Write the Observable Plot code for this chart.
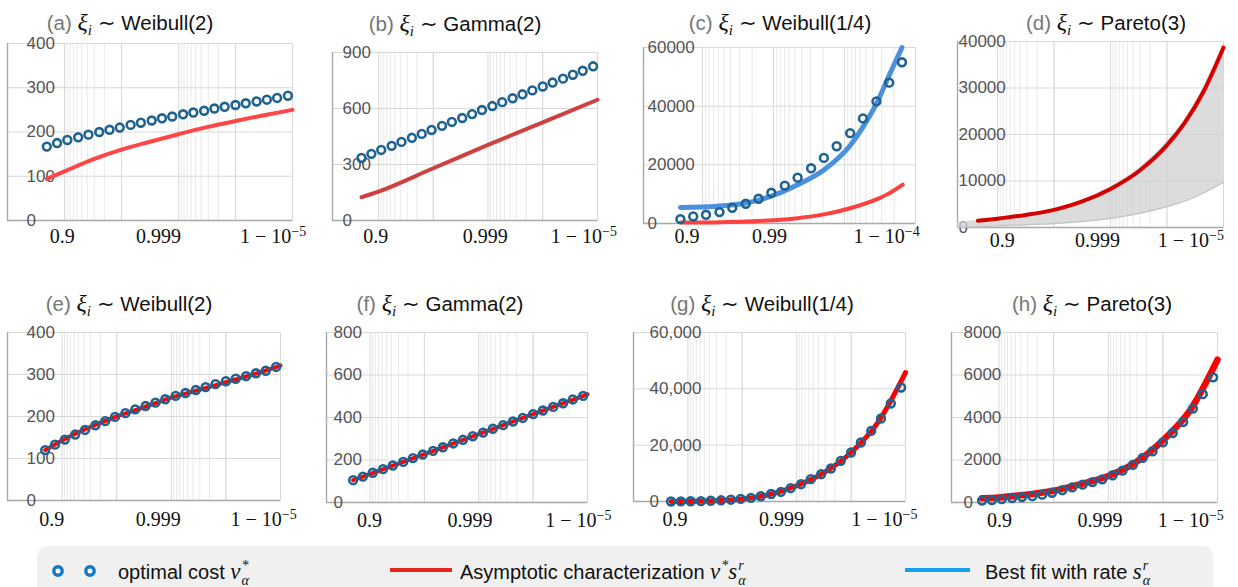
<!DOCTYPE html>
<html>
<head>
<meta charset="utf-8">
<script src="https://cdn.jsdelivr.net/npm/d3@7"></script>
<script src="https://cdn.jsdelivr.net/npm/@observablehq/plot@0.6"></script>
<style>
html,body{margin:0;padding:0;background:#fff;}
#fig{position:relative;width:1238px;height:587px;overflow:hidden;font-family:"Liberation Sans",Arial,sans-serif;color:#111;}
.panel{position:absolute;}
.panel svg{background:transparent !important;max-width:none !important;display:block;}
.title{position:absolute;white-space:nowrap;font-size:20.5px;line-height:1;transform:translateX(-50%);}
.title .lab{color:#777;}
.m{font-family:"Liberation Serif","DejaVu Serif",serif;font-style:italic;}
.title .m{font-size:24px;}
.sb{font-size:0.62em;position:relative;top:0.35em;font-family:"Liberation Serif",serif;font-style:italic;}
.xl{position:absolute;font-family:"Liberation Serif","DejaVu Serif",serif;font-size:20px;line-height:1;white-space:nowrap;transform:translateX(-50%);color:#111;}
.xl sup{font-size:14px;line-height:0;position:relative;top:-0.55em;vertical-align:baseline;}
.leg{position:absolute;font-size:20px;line-height:1;white-space:nowrap;color:#111;}
.lm{font-family:"Liberation Serif",serif;font-style:italic;font-size:23px;line-height:1;}
.ss{display:inline-block;position:relative;width:11px;height:20px;vertical-align:baseline;font-family:"Liberation Serif",serif;font-style:italic;}
.ss .u,.ss .d{position:absolute;left:1px;font-size:14px;line-height:1;}
.ss .u{top:0px;}
.ss .d{top:14.5px;}
</style>
</head>
<body>
<div id="fig"></div>
<script>
// ---- x positions of the evaluated levels: -log10(1 - alpha) ----
const levelT = [0.69,0.87,1.05,1.24,1.42,1.61,1.79,1.97,2.16,2.34,2.53,2.71,2.89,3.08,3.26,3.45,3.63,3.81,4.00,4.18,4.37,4.55,4.73,4.92];
const curveT = [0.69,1,1.5,2,2.5,3,3.5,4,4.5,5];
const minorMult = [1,2,3,4,5,6,7,8,9];

// (a) Weibull(2)
const costA = [167,175,182,188,194,200,205,210,216,221,226,231,235,240,244,248,253,257,261,265,269,273,277,282];
const asymA = [94,111,138,160,178,195,211,225,238,250];
// (b) Gamma(2)
const costB = [335,357,378,400,421,443,464,485,507,528,549,570,592,613,634,655,676,697,718,739,760,781,802,826];
const asymBT = [0.69,1,2,3,4,5];
const asymB = [125,155,280,405,526,647];
// (c) Weibull(1/4)
const costC = [1480,2400,2970,3880,5360,6730,8440,10490,12890,15630,18820,22360,26350,30800,35820,41630,48020,54980];
const fitCT = [0.69,1.2,1.61,1.97,2.34,2.71,3.08,3.26,3.45,3.63,3.81];
const fitC = [5480,5900,6960,9350,13230,18250,26580,32850,40840,50530,60000];
const asymCT = [0.69,1.07,1.5,2,2.34,2.71,3.08,3.45,3.63,3.82];
const asymC = [300,340,600,1140,1825,3100,5200,8200,10270,13230];
// (d) Pareto(3)
const bandDT = [0.29,0.65,1,1.5,2,2.5,3,3.5,4,4.4,5];
const bandDHi = [1100,1550,2050,2900,4050,5950,8800,12800,18600,24800,39500];
const bandDLo = [0,150,350,600,850,1300,2000,3000,4500,6100,9700];
const asymDT = [0.65,1,1.5,2,2.5,3,3.5,4,4.3,4.65,5];
const asymD = [1430,1900,2700,3800,5600,8300,12100,17700,22300,29300,38700];
// (e) Weibull(2)
const costE = [120,133,145,157,168,179,189,199,208,217,225,233,241,249,256,263,270,277,284,290,296,303,309,318];
const asymE = [120,143,174,200,222,245,263,282,300,321];
// (f) Gamma(2)
const costF = [105,122,140,157,174,191,209,226,243,260,278,295,312,329,347,364,381,398,416,433,450,467,485,502];
const asymFT = [0.69,2,3,4,5];
const asymF = [105,228,322,416,509];
// (g) Weibull(1/4)
const costG = [15,35,75,150,260,420,640,930,1300,1850,2650,3430,4730,6150,7930,9700,11720,14440,17400,20950,25090,29470,34800,40470];
const asymG = [10,40,250,880,2450,5600,10250,17400,28300,45800];
// (h) Pareto(3)
const costH = [90,120,160,210,260,300,370,460,580,710,840,960,1090,1280,1500,1770,2100,2410,2830,3270,3790,4420,5100,5890];
const asymH = [200,240,370,550,870,1250,1880,2920,4350,6720];

// tick labels
const ticks5 = ["0.9","0.999","1 − 10<sup>−5</sup>"];
const ticks4 = ["0.9","0.99","1 − 10<sup>−4</sup>"];

const zip = (xs, ys) => xs.map((t, i) => ({t, v: ys[i]}));
const CIRC = "#1f6391";
const dots = (ys) => Plot.dot(zip(levelT.slice(0, ys.length), ys), {x: "t", y: "v", r: 3.9, stroke: CIRC, strokeWidth: 2.6, fill: "none"});
const line = (xs, ys, stroke, w) => Plot.line(zip(xs, ys), {x: "t", y: "v", stroke, strokeWidth: w, curve: "monotone-x"});

const panels = [
  {lab:"(a)", name:"Weibull(2)", fx:7, fy:43, fw:285, fh:177, dom:[0,5], yMax:400, yTicks:[0,100,200,300,400], fmt:String, ldx:19, minor:[1,3], major:[1,2,3,4],
   xt:ticks5, xtT:[0.97,2.66,4.67], base:243, tx:130, ty:10,
   marks:[line(curveT, asymA, "#ff4545", 4), dots(costA)]},
  {lab:"(b)", name:"Gamma(2)", fx:332, fy:52, fw:265, fh:168, dom:[0.16,5], yMax:900, yTicks:[0,300,600,900], fmt:String, ldx:10, minor:[1,3], major:[1,2,3,4],
   xt:ticks5, xtT:[0.96,2.96,4.76], base:243, tx:455, ty:11,
   marks:[line(asymBT, asymB, "#cf4040", 4), dots(costB)]},
  {lab:"(c)", name:"Weibull(1/4)", fx:643, fy:47, fw:272, fh:176, dom:[0.17,4], yMax:60000, yTicks:[0,20000,40000,60000], fmt:String, ldx:4, minor:[1,2,3], major:[1,2,3],
   xt:ticks4, xtT:[0.79,1.95,3.6], base:243, tx:780, ty:10,
   marks:[line(fitCT, fitC, "#4a90dc", 5), line(asymCT, asymC, "#ff4040", 4), dots(costC)]},
  {lab:"(d)", name:"Pareto(3)", fx:957, fy:41, fw:266, fh:186, dom:[0.29,5], yMax:40000, yTicks:[0,10000,20000,30000,40000], fmt:String, ldx:1, minor:[1,3], major:[1,2,3,4],
   xt:ticks5, xtT:[1.09,2.78,4.43], base:247, tx:1106, ty:10,
   marks:[
     Plot.areaY(bandDT.map((t,i)=>({t, lo:bandDLo[i], hi:bandDHi[i]})), {x:"t", y1:"lo", y2:"hi", fill:"#d0d0d0", fillOpacity:0.75, curve:"monotone-x"}),
     line(bandDT, bandDLo, "#c4c4c4", 1.5),
     line(asymDT, asymD, "#d40000", 4)]},
  {lab:"(e)", name:"Weibull(2)", fx:7, fy:332, fw:273, fh:168, dom:[0,5], yMax:400, yTicks:[0,100,200,300,400], fmt:String, ldx:19, minor:[1,3], major:[1,2,3,4],
   xt:ticks5, xtT:[0.82,2.77,4.7], base:526, tx:129, ty:291,
   marks:[line(curveT, asymE, "#ff0000", 4), dots(costE)]},
  {lab:"(f)", name:"Gamma(2)", fx:326, fy:332, fw:261, fh:170, dom:[0.2,5], yMax:800, yTicks:[0,200,400,600,800], fmt:String, ldx:7, minor:[1,3], major:[1,2,3,4],
   xt:ticks5, xtT:[1.0,2.85,4.84], base:527, tx:440, ty:291,
   marks:[line(asymFT, asymF, "#ff0000", 4), dots(costF)]},
  {lab:"(g)", name:"Weibull(1/4)", fx:633, fy:332, fw:272, fh:169, dom:[0,5], yMax:60000, yTicks:[0,20000,40000,60000], fmt:d3.format(","), ldx:16, minor:[1,3], major:[1,2,3,4],
   xt:ticks5, xtT:[0.77,2.73,4.62], base:526, tx:762, ty:291,
   marks:[line(curveT, asymG, "#ff0000", 5), dots(costG)]},
  {lab:"(h)", name:"Pareto(3)", fx:951, fy:332, fw:266, fh:170, dom:[0.13,5], yMax:8000, yTicks:[0,2000,4000,6000,8000], fmt:String, ldx:12, minor:[1,3], major:[1,2,3,4],
   xt:ticks5, xtT:[1.02,2.86,4.52], base:527, tx:1092, ty:291,
   marks:[line(curveT, asymH, "#ff0000", 6.5), dots(costH)]}
];

const fig = document.getElementById("fig");
const M = 10;

for (const p of panels) {
  const gridT = [];
  for (const a of p.minor) for (const m of minorMult) gridT.push(a + 1 - Math.log10(m));
  const svg = Plot.plot({
    width: p.fw + 2*M, height: p.fh + 2*M, margin: M,
    x: {domain: p.dom, axis: null},
    y: {domain: [0, p.yMax], axis: null},
    marks: [
      Plot.ruleX(gridT.filter(t => t <= p.dom[1]), {stroke: "#e9e9e9", strokeWidth: 1}),
      Plot.ruleX(p.major, {stroke: "#d9d9d9", strokeWidth: 1}),
      Plot.ruleY(p.yTicks, {stroke: "#d9d9d9", strokeWidth: 1}),
      Plot.frame({stroke: "#d9d9d9"}),
      Plot.ruleX([p.dom[0]], {stroke: "#a9a9a9", strokeWidth: 1.4}),
      Plot.ruleY([0], {stroke: "#a9a9a9", strokeWidth: 1.4}),
      Plot.text(p.yTicks, {y: d => d, text: p.fmt, frameAnchor: "left", textAnchor: "start", dx: p.ldx, fill: "#555", fontSize: 17, fontFamily: "Liberation Sans"}),
      ...p.marks
    ]
  });
  const div = document.createElement("div");
  div.className = "panel";
  div.style.left = (p.fx - M) + "px";
  div.style.top = (p.fy - M) + "px";
  div.appendChild(svg);
  fig.appendChild(div);

  const xs = svg.scale("x");
  p.xt.forEach((txt, i) => {
    const el = document.createElement("div");
    el.className = "xl";
    el.innerHTML = txt;
    el.style.left = (p.fx - M + xs.apply(p.xtT[i])) + "px";
    el.style.top = (p.base - 16.7) + "px";
    fig.appendChild(el);
  });

  const t = document.createElement("div");
  t.className = "title";
  t.innerHTML = `<span class="lab">${p.lab}</span> <span class="m">ξ<span class="sb">i</span></span> ∼ ${p.name}`;
  t.style.left = p.tx + "px";
  t.style.top = p.ty + "px";
  fig.appendChild(t);
}

// legend
const legend = document.createElement("div");
legend.style.cssText = "position:absolute;left:37px;top:546px;width:1176px;height:56px;background:#f0f0f0;border-radius:11px;";
fig.appendChild(legend);
const ls = d3.create("svg").attr("width", 60).attr("height", 20)
  .style("position", "absolute").style("left", "48px").style("top", "561px");
ls.selectAll("circle").data([10, 42]).join("circle")
  .attr("cx", d => d).attr("cy", 10).attr("r", 4.2)
  .attr("fill", "#fff").attr("stroke", "#1677c2").attr("stroke-width", 3.4);
fig.appendChild(ls.node());
const addLeg = (html, left) => {
  const el = document.createElement("div");
  el.className = "leg"; el.innerHTML = html;
  el.style.left = left + "px"; el.style.top = "559px";
  fig.appendChild(el);
};
const addBar = (left, width, color) => {
  const el = document.createElement("div");
  el.style.cssText = `position:absolute;left:${left}px;top:568px;width:${width}px;height:4px;background:${color};`;
  fig.appendChild(el);
};
addLeg(`optimal cost <span class="lm">v</span><span class="ss"><span class="u">*</span><span class="d">α</span></span>`, 118);
addBar(390, 62, "#e8261b");
addLeg(`Asymptotic characterization <span class="lm">v</span><span class="ss" style="width:8px"><span class="u">*</span></span><span class="lm">s</span><span class="ss"><span class="u">r</span><span class="d">α</span></span>`, 460);
addBar(905, 65, "#12a2ee");
addLeg(`Best fit with rate <span class="lm">s</span><span class="ss"><span class="u">r</span><span class="d">α</span></span>`, 985);
</script>
</body>
</html>
